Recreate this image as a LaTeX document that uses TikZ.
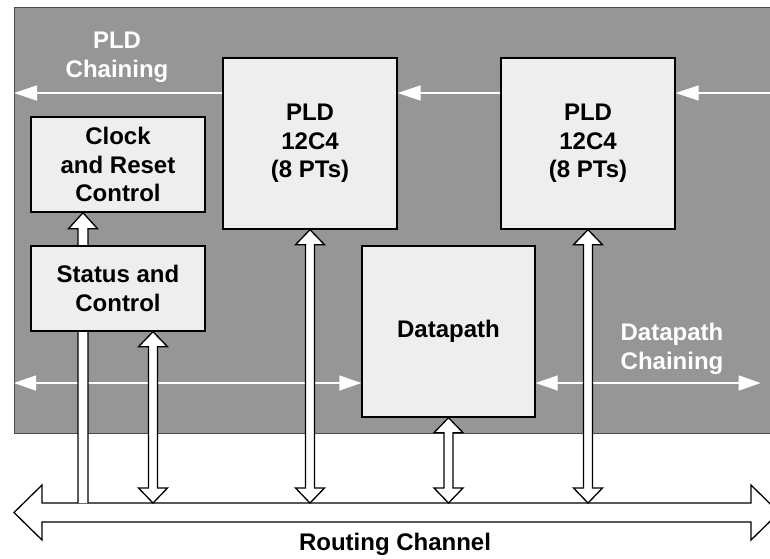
\documentclass[tikz,border=0pt]{standalone}
\usepackage{fontspec}
\setmainfont{Liberation Sans}
\usetikzlibrary{calc,arrows.meta}
\definecolor{bggray}{HTML}{969696}
\definecolor{boxfill}{HTML}{EEEEEE}
\newcommand\hollowdbl[2]{%
  \draw[hollow] let \p1=(#1), \p2=(#2) in
    (\x1,\y1) -- (\x1+14.5pt,\y1-15pt) -- (\x1+4.5pt,\y1-15pt) -- (\x1+4.5pt,\y2+15pt)
    -- (\x1+14.5pt,\y2+15pt) -- (\x1,\y2) -- (\x1-14.5pt,\y2+15pt) -- (\x1-4.5pt,\y2+15pt)
    -- (\x1-4.5pt,\y1-15pt) -- (\x1-14.5pt,\y1-15pt) -- cycle;}
\newcommand\hollowsgl[2]{%
  \draw[hollow] let \p1=(#1), \p2=(#2) in
    (\x1-5pt,\y2) -- (\x1-5pt,\y1-16pt) -- (\x1-14.5pt,\y1-16pt) -- (\x1,\y1)
    -- (\x1+14.5pt,\y1-16pt) -- (\x1+5pt,\y1-16pt) -- (\x1+5pt,\y2);}
\begin{document}
\begin{tikzpicture}[x=1pt,y=-1pt,
  box/.style={draw=black,fill=boxfill,line width=1.4pt,inner sep=0pt,align=center,
    font=\fontsize{24}{28.5}\selectfont\bfseries},
  lbl/.style={align=center,font=\fontsize{24}{28.5}\selectfont\bfseries},
  hollow/.style={draw=black,fill=white,line width=1.3pt,line join=miter},
  chain/.style={draw=white,line width=1.4pt,-{Triangle[length=23pt,width=15pt]}},
  chaintwo/.style={draw=white,line width=1.4pt,{Triangle[length=22pt,width=15pt]}-{Triangle[length=22pt,width=15pt]}}]
\useasboundingbox (0,0) rectangle (770,558);
\clip (0,0) rectangle (770,558);
\fill[white] (0,0) rectangle (770,558);
% background block
\draw[fill=bggray,draw=black!70,line width=0.8pt] (14,7) rectangle (800,433);
\coordinate (lft) at (14,0);
\coordinate (rgt) at (790,0);
\coordinate (rc) at (0,503);
% routing channel
\draw[hollow] (14,512.5) -- (42,485) -- (42,503) -- (751,503) -- (751,485) -- (779,512.5)
  -- (751,540) -- (751,522) -- (42,522) -- (42,540) -- cycle;
\node[lbl] (rctext) at (395,544) {Routing Channel};
% boxes
\node[box,minimum width=174pt,minimum height=95pt] (clk) at (118,164.5) {Clock\\and Reset\\Control};
\node[box,minimum width=174pt,minimum height=171pt] (pld1) at (310,143.5) {PLD\\12C4\\(8 PTs)};
\node[box,minimum width=174pt,minimum height=171pt] (pld2) at (588,143.5) {PLD\\12C4\\(8 PTs)};
\node[box,minimum width=173pt,minimum height=171pt] (dp) at (448.5,331.5) {Datapath};
% chaining labels
\node[lbl,text=white] (pldc) at (117,57.5) {PLD\\Chaining};
\node[lbl,text=white] (dpc) at (672,349) {Datapath\\Chaining};
% chaining arrows
\draw[chain] ([yshift=50.5pt]pld1.west) -- ([yshift=50.5pt]pld1.west -| lft);
\draw[chain] ([yshift=50.5pt]pld2.west) -- ([yshift=50.5pt]pld1.east);
\draw[chain] ([yshift=50.5pt]pld2.east -| rgt) -- ([yshift=50.5pt]pld2.east);
\draw[chaintwo] ([yshift=-51.5pt]dp.west -| lft) -- ([yshift=-51.5pt]dp.west);
\draw[chaintwo] ([yshift=-51.5pt]dp.east) -- ++(225,0);
% vertical hollow arrows
\hollowsgl{[xshift=-35pt]clk.south}{[xshift=-35pt]clk.south |- rc}
\node[box,minimum width=174pt,minimum height=85pt] (st) at (118,288.5) {Status and\\Control};
\hollowdbl{[xshift=35pt]st.south}{[xshift=35pt]st.south |- rc}
\hollowdbl{pld1.south}{pld1.south |- rc}
\hollowdbl{pld2.south}{pld2.south |- rc}
\hollowdbl{dp.south}{dp.south |- rc}
\end{tikzpicture}
\end{document}
